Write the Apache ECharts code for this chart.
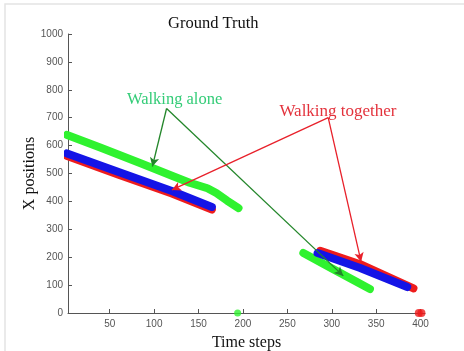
<!DOCTYPE html>
<html>
<head>
<meta charset="utf-8">
<script src="https://cdn.jsdelivr.net/npm/echarts@6/dist/echarts.min.js"></script>
<style>
html,body{margin:0;padding:0;background:#fff;}
#chart{width:464px;height:351px;}
</style>
</head>
<body>
<div id="chart"></div>
<script>
// ---- data (time step, X position) ----
var greenSeg1 = [[2,638],[40,592],[84,538],[120,492],[140,467],[150,457],[160,447],[170,430],[182,403],[195,376]];
var greenSeg2 = [[268,215],[300,160],[343,86]];
var blueSeg1 = [[2,572],[60,505],[120,437],[165,380]];
var blueSeg2 = [[284,215],[332,161],[385,93]];
var redSeg1 = [[2,563],[60,496],[120,428],[165,371]];
var redSeg2 = [[287,223],[332,175],[392,88]];
var greenDots = [[194,0]];
var redDots = [[398,0],[401,0]];
var xTicks = [50,100,150,200,250,300,350,400];
var labelAlone = {text:'Walking alone', at:[123,763]};
var labelTogether = {text:'Walking together', at:[307,722]};
var arrowsAlone = [[[114,733],[98,525]],[[114,733],[313,133]]];
var arrowsTogether = [[[296,700],[120,441]],[[296,700],[333,184]]];

var GREEN = '#2ff22f', BLUE = '#1414e6', RED = '#ee1c1c';
var serif = '"Liberation Serif","DejaVu Serif",serif';

function seg(data, color){
  return {type:'line', data:data, symbol:'none', smooth:false,
    lineStyle:{color:color, width:8, cap:'round', join:'round'}, z:3};
}
function arrowLines(list){
  return list.map(function(a){
    return [{coord:a[0]},{coord:a[1]}];
  });
}

var chart = echarts.init(document.getElementById('chart'));
chart.setOption({
  backgroundColor:'#fff',
  animation:false,
  graphic:[{type:'rect', shape:{x:5,y:4,width:470,height:360},
    style:{fill:'none', stroke:'#e4e4e4', lineWidth:1.5}, silent:true}],
  title:{text:'Ground Truth', left:163, top:10,
    textStyle:{fontFamily:serif, fontSize:16.5, fontWeight:'normal', color:'#111'}},
  grid:{left:68, right:39, top:34, bottom:38, containLabel:false, outerBoundsMode:'none'},
  xAxis:{type:'value', min:3, max:405,
    name:'Time steps', nameLocation:'middle', nameGap:22, nameMoveOverlap:false,
    nameTextStyle:{fontFamily:serif, fontSize:16, color:'#111'},
    axisLine:{lineStyle:{color:'#555'}},
    axisTick:{inside:true, length:4, lineStyle:{color:'#555'}, customValues:xTicks},
    axisLabel:{color:'#555', fontSize:10, fontFamily:'"Liberation Sans",Arial,sans-serif', margin:6, customValues:xTicks},
    splitLine:{show:false}},
  yAxis:{type:'value', min:0, max:1000, interval:100,
    name:'X positions', nameLocation:'middle', nameGap:30, nameMoveOverlap:false,
    nameTextStyle:{fontFamily:serif, fontSize:16, color:'#111'},
    axisLine:{show:true, lineStyle:{color:'#555'}},
    axisTick:{show:true, inside:true, length:4, lineStyle:{color:'#555'}},
    axisLabel:{color:'#555', fontSize:10, fontFamily:'"Liberation Sans",Arial,sans-serif', margin:5,
      formatter:function(v){return String(v);}},
    splitLine:{show:false}},
  series:[
    seg(greenSeg1, GREEN), seg(greenSeg2, GREEN),
    seg(redSeg1, RED), seg(blueSeg1, BLUE),
    seg(redSeg2, RED), seg(blueSeg2, BLUE),
    {type:'scatter', data:greenDots, symbolSize:7, itemStyle:{color:GREEN}, z:4},
    {type:'scatter', data:redDots, symbolSize:8, itemStyle:{color:RED}, z:4},
    {type:'scatter', data:[], z:6,
      markLine:{silent:true, symbol:['none','arrow'], symbolSize:[7,9],
        lineStyle:{color:'#23862a', width:1.3, type:'solid'}, label:{show:false},
        data:arrowLines(arrowsAlone)},
      markPoint:{silent:true, symbol:'rect', symbolSize:1, itemStyle:{color:'rgba(0,0,0,0)'},
        data:[{coord:labelAlone.at, label:{show:true, position:'inside', formatter:labelAlone.text,
          fontFamily:serif, fontSize:16.5, color:'#33cc77'}}]}
    },
    {type:'scatter', data:[], z:6,
      markLine:{silent:true, symbol:['none','arrow'], symbolSize:[7,9],
        lineStyle:{color:'#e8202a', width:1.3, type:'solid'}, label:{show:false},
        data:arrowLines(arrowsTogether)},
      markPoint:{silent:true, symbol:'rect', symbolSize:1, itemStyle:{color:'rgba(0,0,0,0)'},
        data:[{coord:labelTogether.at, label:{show:true, position:'inside', formatter:labelTogether.text,
          fontFamily:serif, fontSize:17, color:'#e3323c'}}]}
    }
  ]
});
</script>
</body>
</html>
